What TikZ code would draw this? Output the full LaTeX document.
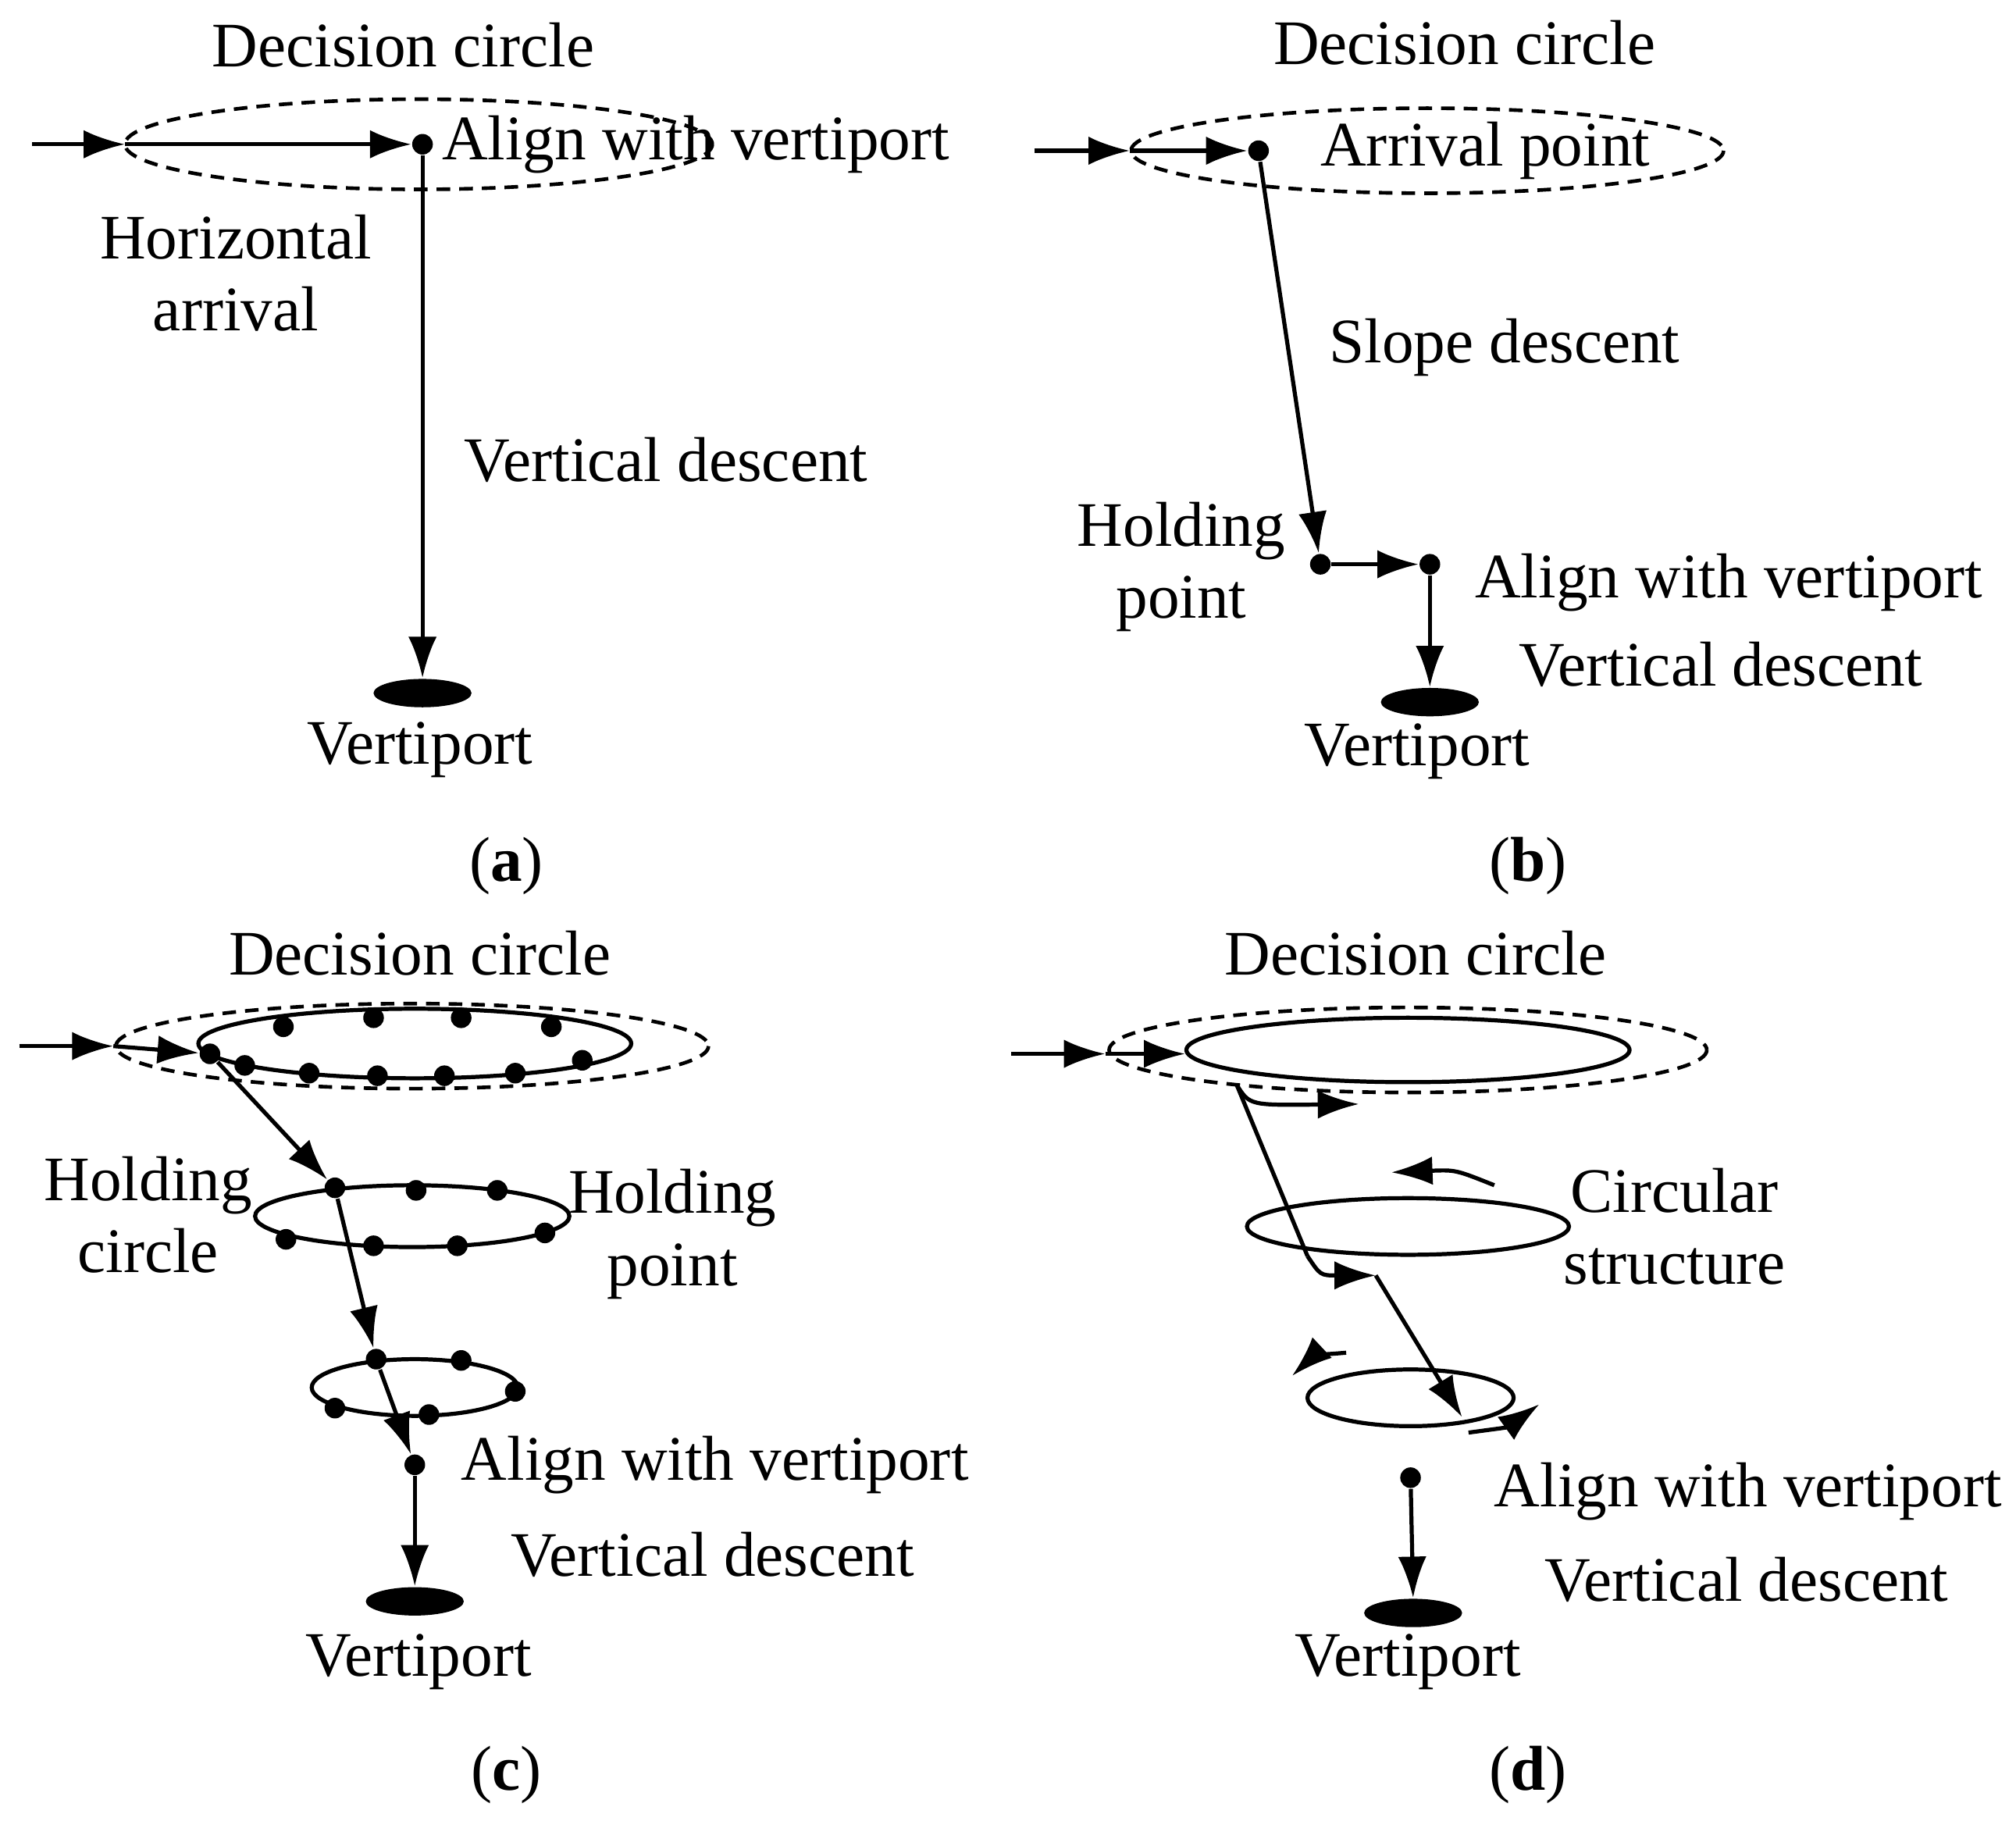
\documentclass[tikz,border=0pt]{standalone}
\usepackage{fontspec}
\setmainfont{Liberation Serif}
\usetikzlibrary{arrows.meta,shapes.geometric}
\tikzset{
  lbl/.style={font=\fontsize{14}{16}\selectfont, align=center, inner sep=0pt},
  zone/.style={densely dashed, line width=0.8pt},
  ring/.style={line width=0.9pt},
  pt/.style={circle, fill, inner sep=0pt, minimum size=0.16cm},
  port/.style={ellipse, fill, inner sep=0pt, minimum width=0.76cm, minimum height=0.22cm},
  go/.style={line width=0.9pt, -{Latex[length=3.2mm,width=2.2mm]}},
}
\begin{document}
\begin{tikzpicture}[x=0.01cm, y=-0.01cm]
\useasboundingbox (0,0) rectangle (1565,1413);
% (a)
\node[lbl] at (313,35) {Decision circle};
\draw[zone] (325,112) ellipse [x radius=228, y radius=35];
\coordinate (aIn) at (25,112);
\coordinate (aE) at (97,112);
\node[pt] (aA) at (328,112) {};
\node[port] (aV) at (328,538) {};
\draw[go] (aIn) -- (aE);
\draw[go] (aE) -- (aA);
\draw[go] (aA) -- (aV.north);
\node[lbl] at (540,112) {Align with vertiport};
\node[lbl] at (183,212) {Horizontal\\arrival};
\node[lbl] at (517,357) {Vertical descent};
\node[lbl] at (326,582) {Vertiport};
\node[lbl] at (393,672) {(\textbf{a})};
% (b)
\node[lbl] at (1137,33) {Decision circle};
\draw[zone] (1108,117) ellipse [x radius=230, y radius=33];
\coordinate (bIn) at (803,117);
\coordinate (bE) at (877,117);
\node[pt] (bA) at (977,117) {};
\node[pt] (bH) at (1025,438) {};
\node[pt] (bL) at (1110,438) {};
\node[port] (bV) at (1110,545) {};
\draw[go] (bIn) -- (bE);
\draw[go] (bE) -- (bA);
\draw[go] (bA) -- (bH);
\draw[go] (bH) -- (bL);
\draw[go] (bL) -- (bV.north);
\node[lbl] at (1153,117) {Arrival point};
\node[lbl] at (1168,270) {Slope descent};
\node[lbl] at (917,440) {Holding\\point};
\node[lbl] at (1342,452) {Align with vertiport};
\node[lbl] at (1336,516) {Vertical descent};
\node[lbl] at (1100,583) {Vertiport};
\node[lbl] at (1186,672) {(\textbf{b})};
% (c)
\node[lbl] at (326,740) {Decision circle};
\draw[zone] (320,812) ellipse [x radius=230, y radius=33];
\draw[ring] (322,810) ellipse [x radius=168, y radius=27];
\draw[ring] (320,944) ellipse [x radius=122, y radius=24];
\draw[ring] (322,1077) ellipse [x radius=80, y radius=22];
\foreach \p in {(220,797),(290,790),(358,790),(428,797),(190,827),(240,833),(293,835),(345,835),(400,833),(452,823),
  (323,924),(386,924),(423,957),(355,967),(290,967),(222,962),
  (358,1056),(400,1080),(333,1098),(260,1093)}
  \node[pt] at \p {};
\coordinate (cIn) at (15,812);
\coordinate (cE) at (88,812);
\node[pt] (cS) at (163,818) {};
\node[pt] (cH1) at (260,922) {};
\node[pt] (cH2) at (292,1055) {};
\node[pt] (cA) at (322,1137) {};
\node[port] (cV) at (322,1243) {};
\draw[go] (cIn) -- (cE);
\draw[go] (cE) -- (cS);
\draw[go] (cS) -- (cH1);
\draw[go] (cH1) -- (cH2);
\draw[go] (cH2) -- (cA);
\draw[go] (cA) -- (cV.north);
\node[lbl] at (115,943) {Holding\\circle};
\node[lbl] at (522,958) {Holding\\point};
\node[lbl] at (555,1137) {Align with vertiport};
\node[lbl] at (553,1207) {Vertical descent};
\node[lbl] at (325,1290) {Vertiport};
\node[lbl] at (393,1378) {(\textbf{c})};
% (d)
\node[lbl] at (1099,740) {Decision circle};
\draw[zone] (1093,815) ellipse [x radius=232, y radius=33];
\draw[ring] (1093,815) ellipse [x radius=172, y radius=25];
\draw[ring] (1093,952) ellipse [x radius=125, y radius=22];
\draw[ring] (1095,1085) ellipse [x radius=80, y radius=22];
\coordinate (dIn) at (785,818);
\coordinate (dE) at (858,818);
\coordinate (dR) at (920,818);
\coordinate (dT1) at (960,842);
\coordinate (dT2) at (1015,975);
\coordinate (dT3) at (1068,990);
\coordinate (dT4) at (1135,1100);
\node[pt] (dA) at (1095,1147) {};
\node[port] (dV) at (1097,1252) {};
\draw[go] (dIn) -- (dE);
\draw[go] (dE) -- (dR);
\draw[go] (dT1) .. controls (970,858) .. (1055,857);
\draw[ring] (dT1) -- (dT2);
\draw[go] (dT2) .. controls (1025,990) .. (dT3);
\draw[go] (dT3) -- (dT4);
\draw[go] (1160,920) .. controls (1130,908) .. (1080,910);
\draw[go] (1045,1050) .. controls (1020,1052) .. (1003,1068);
\draw[go] (1140,1112) .. controls (1170,1108) .. (1195,1090);
\draw[go] (dA) -- (dV.north);
\node[lbl] at (1300,952) {Circular\\structure};
\node[lbl] at (1357,1158) {Align with vertiport};
\node[lbl] at (1356,1226) {Vertical descent};
\node[lbl] at (1093,1290) {Vertiport};
\node[lbl] at (1186,1378) {(\textbf{d})};
\end{tikzpicture}
\end{document}
